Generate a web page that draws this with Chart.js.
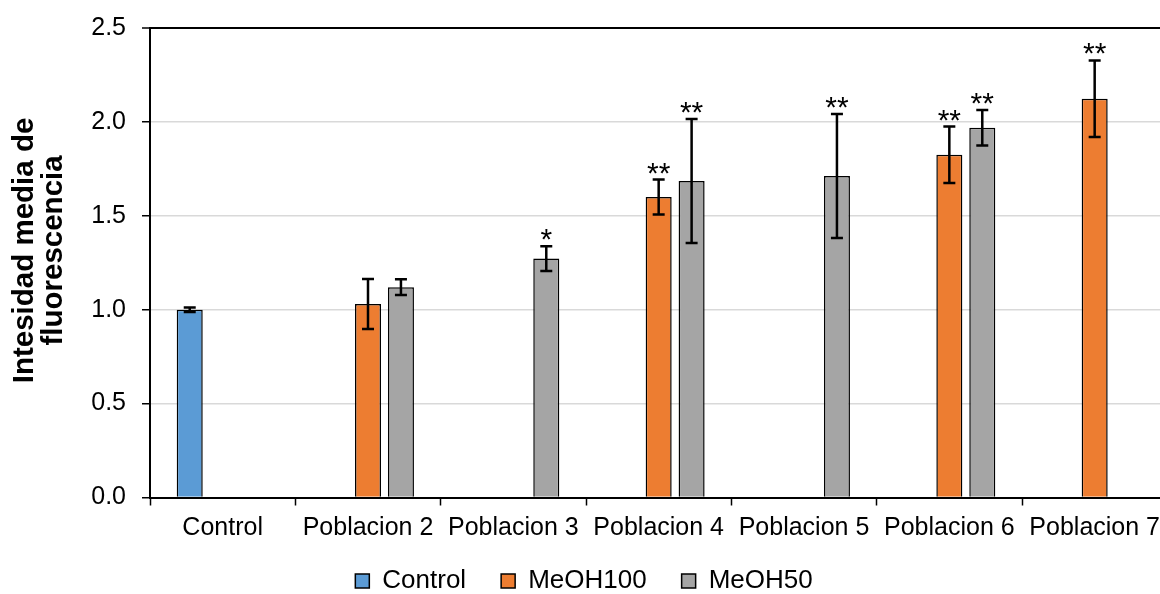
<!DOCTYPE html>
<html>
<head>
<meta charset="utf-8">
<script src="https://cdn.jsdelivr.net/npm/chart.js@4.4.1/dist/chart.umd.min.js"></script>
<style>
    html, body { margin: 0; padding: 0; background: #fff; overflow: hidden; }
    #wrap { width: 1160px; height: 594px; overflow: hidden; }
</style>
</head>
<body>
<div id="wrap">
    <canvas id="fluorChart" width="1168" height="594"></canvas>
</div>
<script>
const categories = ['Control', 'Poblacion 2', 'Poblacion 3', 'Poblacion 4', 'Poblacion 5', 'Poblacion 6', 'Poblacion 7'];

const controlValues = [1.00, null, null, null, null, null, null];
const controlErrors = [0.012, null, null, null, null, null, null];

const meoh100Values = [null, 1.03, null, 1.60, null, 1.825, 2.123];
const meoh100Errors = [null, 0.133, null, 0.093, null, 0.15, 0.204];
const meoh100Signif = ['', '', '', '**', '', '**', '**'];

const meoh50Values = [null, 1.12, 1.272, 1.685, 1.712, 1.969, null];
const meoh50Errors = [null, 0.042, 0.066, 0.33, 0.33, 0.095, null];
const meoh50Signif = ['', '', '*', '**', '**', '**', ''];

const yTicks = [0, 0.5, 1.0, 1.5, 2.0, 2.5];

// axis title, padded at the front so it sits a bit above the plot centre
const yTitle = ['   Intesidad media de', '   fluorescencia'];

Chart.defaults.font.family = 'Arial, "Liberation Sans", sans-serif';
Chart.defaults.color = '#000';

const errorBarsPlugin = {
    id: 'errorBars',
    afterDatasetsDraw(chart) {
        const ctx = chart.ctx;
        const yScale = chart.scales.y;
        chart.data.datasets.forEach((ds, i) => {
            const meta = chart.getDatasetMeta(i);
            meta.data.forEach((bar, j) => {
                const v = ds.data[j];
                const e = ds.errors[j];
                if (v === null || e === null) return;
                const x = bar.x;
                const yTop = yScale.getPixelForValue(v + e);
                const yBot = yScale.getPixelForValue(v - e);
                ctx.save();
                ctx.strokeStyle = '#000';
                ctx.lineWidth = 2.5;
                ctx.beginPath();
                ctx.moveTo(x, yTop);
                ctx.lineTo(x, yBot);
                ctx.moveTo(x - 6, yTop);
                ctx.lineTo(x + 6, yTop);
                ctx.moveTo(x - 6, yBot);
                ctx.lineTo(x + 6, yBot);
                ctx.stroke();

                const sig = ds.signif ? ds.signif[j] : '';
                if (sig) {
                    ctx.fillStyle = '#000';
                    ctx.font = '30px Arial, "Liberation Sans", sans-serif';
                    ctx.textAlign = 'center';
                    ctx.textBaseline = 'alphabetic';
                    ctx.fillText(sig, x, yTop + 3);
                }
                ctx.restore();
            });
        });
    }
};

// nudge the legend up a little so it sits where the original one is
const legendShift = {
    id: 'legendShift',
    afterLayout(chart) {
        if (chart.legend) {
            chart.legend.top -= 9.5;
            chart.legend.bottom -= 9.5;
        }
    }
};

const ctx = document.getElementById('fluorChart').getContext('2d');

new Chart(ctx, {
    type: 'bar',
    data: {
        labels: categories,
        datasets: [{
            label: 'Control',
            data: controlValues,
            errors: controlErrors,
            backgroundColor: '#5b9bd5',
            borderColor: '#000',
            borderWidth: 1.5
        }, {
            label: 'MeOH100',
            data: meoh100Values,
            errors: meoh100Errors,
            signif: meoh100Signif,
            backgroundColor: '#ed7d31',
            borderColor: '#000',
            borderWidth: 1.5
        }, {
            label: 'MeOH50',
            data: meoh50Values,
            errors: meoh50Errors,
            signif: meoh50Signif,
            backgroundColor: '#a5a5a5',
            borderColor: '#000',
            borderWidth: 1.5
        }]
    },
    options: {
        responsive: false,
        animation: false,
        devicePixelRatio: 1,
        categoryPercentage: 0.68,
        barPercentage: 0.79,
        layout: {
            padding: { top: 28, left: 0, right: 0, bottom: -19.5 }
        },
        plugins: {
            legend: {
                position: 'bottom',
                labels: {
                    boxWidth: 14,
                    boxHeight: 14,
                    padding: 35,
                    color: '#000',
                    font: { size: 26 }
                }
            },
            tooltip: { enabled: false }
        },
        scales: {
            x: {
                grid: {
                    drawOnChartArea: false,
                    drawTicks: true,
                    tickLength: 8,
                    tickColor: '#000',
                    tickWidth: 1.5
                },
                border: { color: '#000', width: 2 },
                ticks: {
                    padding: 8,
                    maxRotation: 0,
                    autoSkip: false,
                    font: { size: 25 },
                    color: '#000'
                },
                afterFit(scale) {
                    scale.height = 45;
                }
            },
            y: {
                min: 0,
                max: 2.5,
                afterBuildTicks(scale) {
                    scale.ticks = yTicks.map(v => ({ value: v }));
                },
                grid: {
                    color: c => (c.tick && c.tick.value === 2.5) ? '#000' : '#d9d9d9',
                    lineWidth: c => (c.tick && c.tick.value === 2.5) ? 2 : 1.5,
                    tickLength: 8,
                    tickColor: '#000',
                    tickWidth: 1.5
                },
                border: { color: '#000', width: 2 },
                ticks: {
                    padding: 16,
                    font: { size: 25 },
                    color: '#000',
                    callback: v => Number(v).toFixed(1)
                },
                title: {
                    display: true,
                    text: yTitle,
                    font: { size: 29.5, weight: 'bold', lineHeight: 1.0 },
                    color: '#000',
                    padding: { top: 10, bottom: 0 }
                },
                afterFit(scale) {
                    scale.width = 150;
                    scale.paddingTop = 0;
                    scale.paddingBottom = 0;
                }
            }
        }
    },
    plugins: [errorBarsPlugin, legendShift]
});
</script>
</body>
</html>
